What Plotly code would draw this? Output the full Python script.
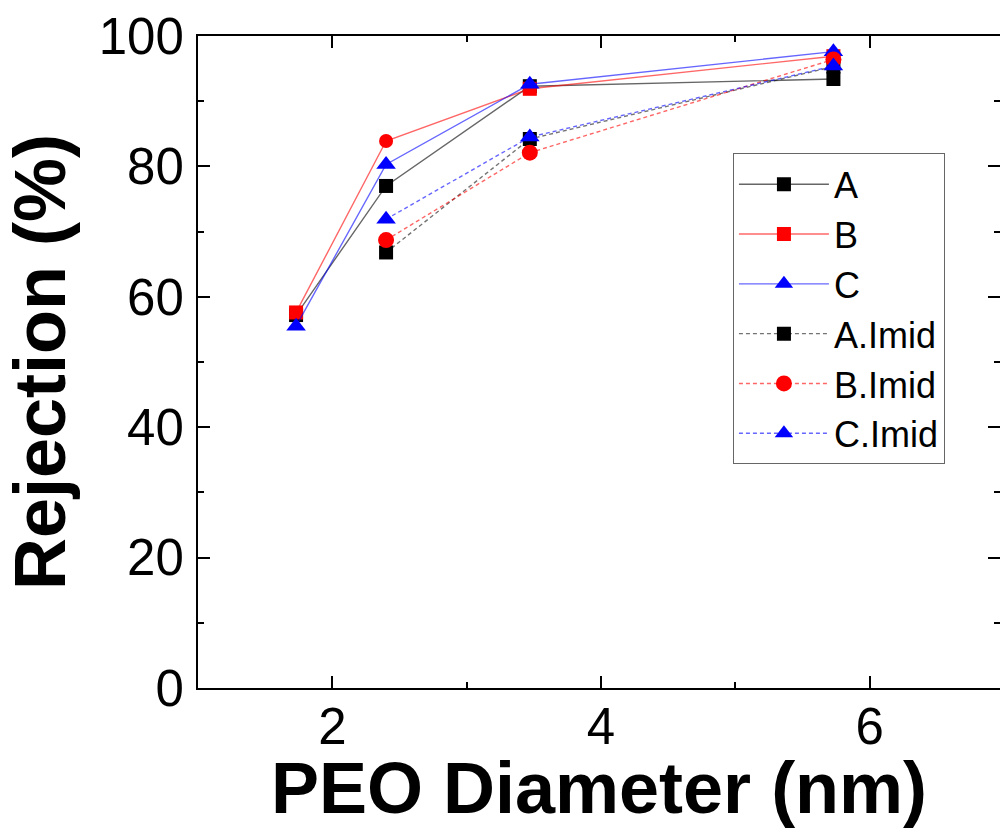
import plotly.graph_objects as go

x = [1.73, 2.40, 3.47, 5.73]
x_imid = [2.40, 3.47, 5.73]

A = [57.2, 77.0, 92.3, 93.4]
B = [57.6, 83.9, 91.9, 96.9]
C = [55.5, 80.3, 92.6, 97.6]
A_imid = [66.8, 84.2, 95.3]
B_imid = [68.7, 82.1, 96.4]
C_imid = [71.9, 84.5, 95.4]

B_symbols = ["square", "circle", "square", "square"]

x_ticks = [2, 4, 6]
y_ticks = [0, 20, 40, 60, 80, 100]

FONT = "Liberation Sans, Arial, sans-serif"

fig = go.Figure()

def add(xs, ys, name, color, dash, symbol, msize):
    fig.add_trace(go.Scatter(
        x=xs, y=ys, name=name, mode="lines+markers",
        line=dict(color=color, width=1.4, dash=dash),
        marker=dict(symbol=symbol, size=msize,
                    color=color.replace("0.6)", "1)").replace("0.55)", "1)"),
                    line=dict(width=0)),
    ))

add(x, A, "A", "rgba(0,0,0,0.6)", "solid", "square", 14)
add(x, B, "B", "rgba(255,0,0,0.6)", "solid", B_symbols, 14)
add(x, C, "C", "rgba(0,0,255,0.6)", "solid", "triangle-up", 17)
add(x_imid, A_imid, "A.Imid", "rgba(0,0,0,0.55)", "4px,3px", "square", 14)
add(x_imid, B_imid, "B.Imid", "rgba(255,0,0,0.6)", "4px,3px", "circle", 16)
add(x_imid, C_imid, "C.Imid", "rgba(0,0,255,0.6)", "4px,3px", "triangle-up", 17)

# dummy trace to realise the right-hand tick axis
fig.add_trace(go.Scatter(x=[], y=[], yaxis="y2", showlegend=False, hoverinfo="skip"))

fig.update_layout(
    width=1000, height=828,
    margin=dict(l=198, r=0, t=36, b=140, autoexpand=False),
    paper_bgcolor="white", plot_bgcolor="white",
    font=dict(family=FONT, color="black"),
    showlegend=True,
    legend=dict(
        x=0.667, y=0.82, xanchor="left", yanchor="top",
        bgcolor="white", bordercolor="#666", borderwidth=1,
        font=dict(family=FONT, size=36, color="black"),
        itemwidth=90,
    ),
    xaxis=dict(
        range=[1, 6.97], tickvals=x_ticks, ticktext=[str(v) for v in x_ticks],
        automargin=False,
        showgrid=False, zeroline=False,
        showline=True, linecolor="black", linewidth=2, mirror="ticks",
        ticks="inside", ticklen=12, tickwidth=2, tickcolor="black",
        minor=dict(dtick=1, tick0=0, ticks="inside", ticklen=6, tickwidth=2, tickcolor="black", showgrid=False),
        tickfont=dict(family=FONT, size=51, color="black"),
        ticklabelstandoff=-7,
        title=dict(text="<b>PEO Diameter (nm)</b>", font=dict(family=FONT, size=72, color="black"), standoff=11),
    ),
    yaxis=dict(
        range=[0, 100], tickvals=y_ticks, ticktext=[str(v) for v in y_ticks],
        automargin=False,
        showgrid=False, zeroline=False,
        showline=True, linecolor="black", linewidth=2, mirror=False,
        ticks="inside", ticklen=12, tickwidth=2, tickcolor="black",
        minor=dict(dtick=10, tick0=0, ticks="inside", ticklen=6, tickwidth=2, tickcolor="black", showgrid=False),
        tickfont=dict(family=FONT, size=51, color="black"),
        ticklabelstandoff=2,
        title=dict(text="<b>Rejection (%)</b>", font=dict(family=FONT, size=72, color="black"), standoff=22),
    ),
    yaxis2=dict(
        overlaying="y", side="right", anchor="x", range=[0, 100], automargin=False,
        tickvals=y_ticks, showticklabels=False, showgrid=False, zeroline=False,
        showline=False, ticks="inside", ticklen=12, tickwidth=2, tickcolor="black",
        minor=dict(dtick=10, tick0=0, ticks="inside", ticklen=6, tickwidth=2, tickcolor="black", showgrid=False),
    ),
)

fig.write_html(
    "out.html",
    config={"displayModeBar": False},
    post_script="document.body.style.margin='0';document.body.style.overflow='hidden';",
)
